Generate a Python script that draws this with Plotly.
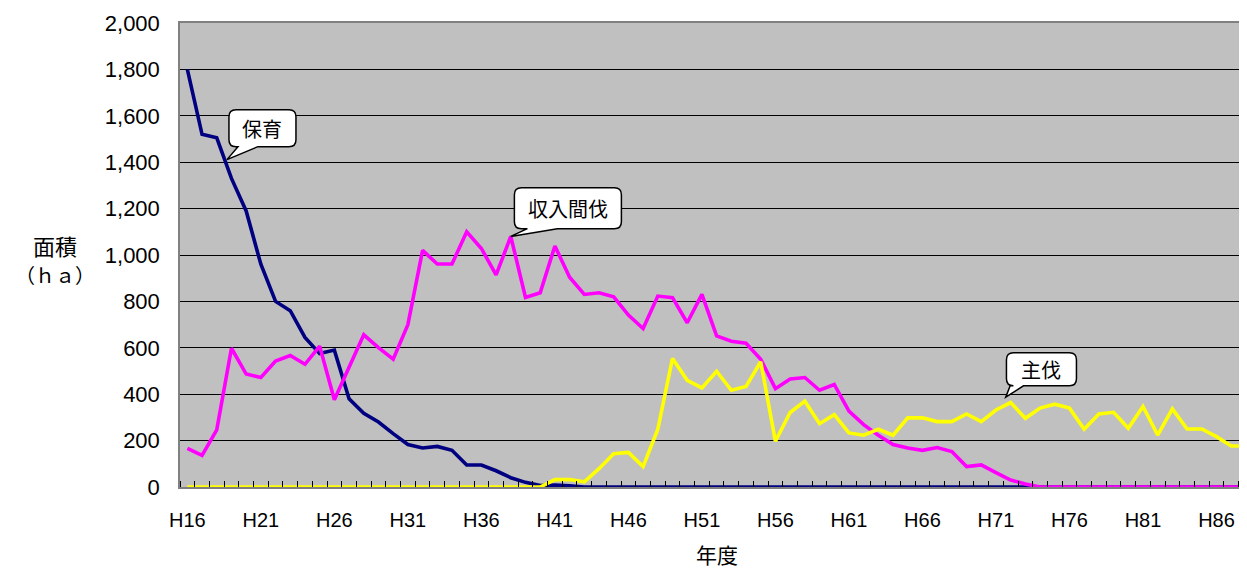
import plotly.graph_objects as go

years = [f"H{n}" for n in range(16, 89)]

hoiku = [1800, 1520, 1505, 1330, 1190, 960, 800, 760, 645, 575,
         590, 380, 318, 280, 230, 183, 168, 175, 158, 95,
         95, 70, 40, 20, 6, 8, 5] + [0] * 46

shunyu_kanbatsu = [167, 136, 246, 598, 487, 472, 543, 567, 529, 607,
                   376, 516, 656, 601, 551, 700, 1020, 961, 961, 1100,
                   1028, 914, 1080, 817, 837, 1039, 904, 830, 837, 820,
                   741, 683, 823, 816, 708, 830, 651, 628, 620, 551,
                   424, 466, 472, 417, 442, 327, 269, 223, 183, 168,
                   158, 170, 153, 88, 95, 62, 30, 13] + [0] * 15

shubatsu = [0] * 25 + [32, 32, 22, 79, 143, 149, 88, 249, 554, 460,
                       427, 499, 417, 433, 540, 197, 321, 370, 273, 312,
                       233, 223, 249, 223, 298, 298, 282, 282, 315, 282,
                       332, 364, 296, 340, 357, 340, 249, 315, 322, 253,
                       347, 224, 337, 250, 250, 217, 177, 177]

series_names = ["保育", "収入間伐", "主伐"]
series_colors = ["#000080", "#FF00FF", "#FFFF00"]

xs = list(range(len(years)))
label_idx = [i for i in xs if i % 5 == 0]

fig = go.Figure()
for name, vals, col in zip(series_names, [hoiku, shunyu_kanbatsu, shubatsu], series_colors):
    fig.add_trace(go.Scatter(x=xs, y=vals, mode="lines", name=name,
                             line=dict(color=col, width=3.6), showlegend=False))

# callouts: label, anchor category, series, box (dx0,dx1,dy0,dy1), tail base, tip, text offset
callouts = [
    ("保育", "H19", hoiku, (-2.5, 64.5, 31.8, 68.8), (6.5, 26.5), (-4.5, 18.8), (31, 50.3)),
    ("収入間伐", "H38", shunyu_kanbatsu, (3.6, 110.6, 7.8, 48.8), (16.6, 46.6), (0, 0), (57, 28.3)),
    ("主伐", "H72", shubatsu, (-4.2, 65.8, 16.7, 49.7), (-0.5, 12.8), (-4.9, 5.4), (30.8, 33.2)),
]
r = 7
for text, cat, ser, box, tail, tip, toff in callouts:
    i = years.index(cat)
    x0, x1, y0, y1 = box
    tl, tr = tail
    tx, ty = tip
    path = (f"M{x0 + r},{y0} L{tl},{y0} L{tx},{ty} L{tr},{y0} L{x1 - r},{y0} "
            f"Q{x1},{y0} {x1},{y0 + r} L{x1},{y1 - r} Q{x1},{y1} {x1 - r},{y1} "
            f"L{x0 + r},{y1} Q{x0},{y1} {x0},{y1 - r} L{x0},{y0 + r} Q{x0},{y0} {x0 + r},{y0} Z")
    fig.add_shape(type="path", xref="x", yref="y", xsizemode="pixel", ysizemode="pixel",
                  xanchor=i, yanchor=ser[i], path=path,
                  fillcolor="white", line=dict(color="black", width=1.5), layer="above")
    fig.add_annotation(x=i, y=ser[i], xref="x", yref="y", text=text, showarrow=False,
                       xshift=toff[0], yshift=toff[1], xanchor="center", yanchor="middle",
                       font=dict(family="Noto Sans CJK JP", size=20, color="black"))

fig.add_annotation(x=-0.117, y=0.522, xref="paper", yref="paper", text="面積", showarrow=False,
                   xanchor="center", yanchor="middle",
                   font=dict(family="Noto Sans CJK JP", size=22, color="black"))
fig.add_annotation(x=-0.117, y=0.4575, xref="paper", yref="paper", text="（ｈａ）", showarrow=False,
                   xanchor="center", yanchor="middle",
                   font=dict(family="Noto Sans CJK JP", size=20, color="black"))
fig.add_annotation(x=0.504, y=-0.145, xref="paper", yref="paper", text="年度", showarrow=False,
                   xanchor="center", yanchor="middle",
                   font=dict(family="Noto Sans CJK JP", size=21, color="black"))

fig.update_layout(
    width=1239, height=562,
    margin=dict(l=172, r=0, t=15, b=83),
    paper_bgcolor="white", plot_bgcolor="#C0C0C0",
    xaxis=dict(range=[-0.5, 71.94], tickvals=label_idx, ticktext=[years[i] for i in label_idx],
               ticks="", showgrid=False, zeroline=False,
               showline=True, linecolor="#808080", linewidth=1.5, mirror=True,
               tickfont=dict(family="Liberation Sans, Arial", size=20, color="black"),
               ticklabelstandoff=14,
               minor=dict(ticks="inside", tick0=-0.5, dtick=1, ticklen=6, tickcolor="black", tickwidth=1,
                          showgrid=False)),
    yaxis=dict(range=[0, 2000], dtick=200, tickformat=",d", showgrid=True, gridcolor="black", gridwidth=1,
               zeroline=False, showline=True, linecolor="#808080", linewidth=1.5, mirror=True,
               ticks="", tickfont=dict(family="Liberation Sans, Arial", size=22, color="black"),
               ticklabelstandoff=14),
)

fig.write_html("out.html")
